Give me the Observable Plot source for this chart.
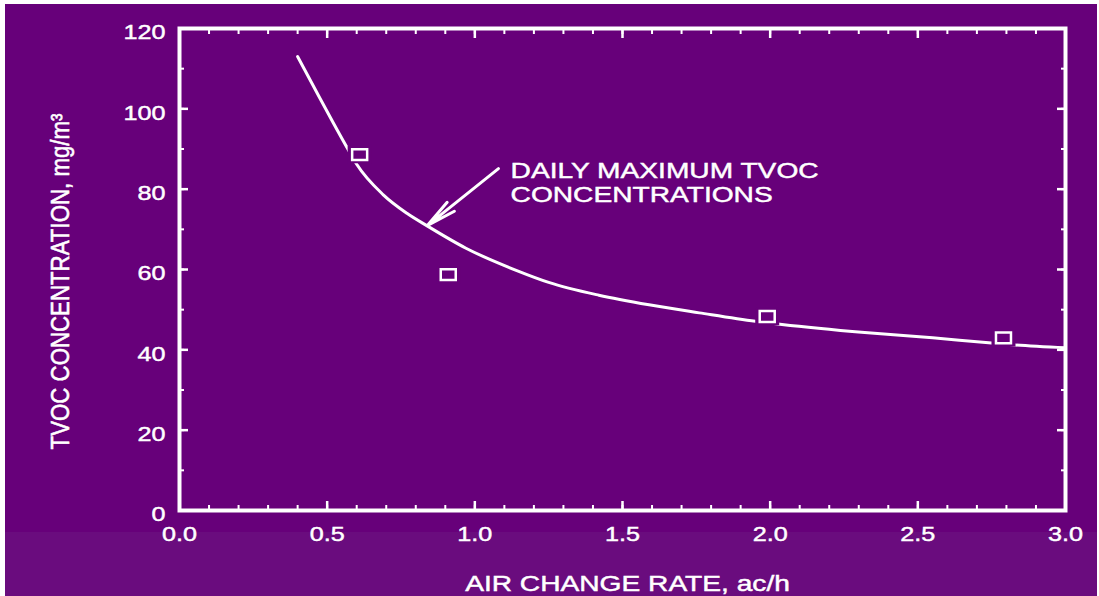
<!DOCTYPE html>
<html>
<head>
<meta charset="utf-8">
<script src="https://cdn.jsdelivr.net/npm/d3@7"></script>
<script src="https://cdn.jsdelivr.net/npm/@observablehq/plot@0.6"></script>
<style>
  html, body { margin: 0; padding: 0; background: #ffffff; }
  #chart svg { display: block; }
</style>
</head>
<body>
<div id="chart"></div>
<script>
// Measured daily maximum TVOC concentrations at four air change rates
const measuredRate = [0.61, 0.91, 1.99, 2.79];
const measuredTvoc = [88.6, 58.7, 48.3, 43.0];

// Fitted curve through the daily maxima
const curveRate = [0.40, 0.47, 0.52, 0.57, 0.60, 0.69, 0.77, 0.84, 0.97, 1.14, 1.25, 1.42, 1.59, 1.76, 1.95, 2.04, 2.32, 2.55, 2.73, 2.83, 3.00];
const curveTvoc = [113, 103.4, 96.6, 90.0, 86.2, 78.6, 74.0, 70.8, 65.3, 59.8, 56.8, 53.6, 51.2, 49.2, 47.1, 46.3, 44.3, 43.0, 41.8, 41.2, 40.5];

// Axis ticks and labels
const xMajorTicks = [0, 0.5, 1.0, 1.5, 2.0, 2.5, 3.0];
const xMinorTicks = d3.range(0, 31).map(i => i / 10);
const xTickLabels = ["0.0", "0.5", "1.0", "1.5", "2.0", "2.5", "3.0"];
const yMajorTicks = [0, 20, 40, 60, 80, 100, 120];
const yMinorTicks = d3.range(0, 13).map(i => i * 10);
const yTickLabels = ["0", "20", "40", "60", "80", "100", "120"];

// Callout
const calloutLines = ["DAILY MAXIMUM TVOC", "CONCENTRATIONS"];
const calloutText = {rate: 1.121, tvoc: 87.1};
const calloutArrow = {rate1: 1.080, tvoc1: 85.1, rate2: 0.840, tvoc2: 71.0};

const xTitle = "AIR CHANGE RATE, ac/h";
const yTitle = "TVOC CONCENTRATION, mg/m\u00B3";

const curve = curveRate.map((r, i) => ({rate: r, tvoc: curveTvoc[i]}));
const points = measuredRate.map((r, i) => ({rate: r, tvoc: measuredTvoc[i]}));

const PURPLE = "#67007a";
const PURPLE_LOW = "#6a0c7e";
const WHITE = "#ffffff";

// Open rectangle marker, slightly wider than tall
const rectSymbol = {
  draw(context, size) {
    const r = Math.sqrt(size / Math.PI);
    const hw = r, hh = r * 0.72;
    context.moveTo(-hw, -hh);
    context.lineTo(hw, -hh);
    context.lineTo(hw, hh);
    context.lineTo(-hw, hh);
    context.closePath();
  }
};

const fmtX = (d) => xTickLabels[xMajorTicks.indexOf(d)];
const fmtY = (d) => yTickLabels[yMajorTicks.indexOf(d)];

const chart = Plot.plot({
  width: 1099,
  height: 596,
  marginLeft: 179,
  marginRight: 34,
  marginTop: 28,
  marginBottom: 86,
  style: {
    fontFamily: "'Liberation Sans', Arial, Helvetica, sans-serif",
    color: WHITE,
    background: "transparent",
    overflow: "visible"
  },
  x: {domain: [0, 3]},
  y: {domain: [0, 120]},
  marks: [
    // inward tick marks on all four sides
    Plot.axisX(xMinorTicks, {anchor: "bottom", tickSize: -5, strokeWidth: 2, stroke: WHITE, text: null, label: null}),
    Plot.axisX(xMajorTicks, {anchor: "bottom", tickSize: -9, strokeWidth: 2.5, stroke: WHITE, text: null, label: null}),
    Plot.axisX(xMinorTicks, {anchor: "top", tickSize: -5, strokeWidth: 2, stroke: WHITE, text: null, label: null}),
    Plot.axisX(xMajorTicks, {anchor: "top", tickSize: -9, strokeWidth: 2.5, stroke: WHITE, text: null, label: null}),
    Plot.axisY(yMinorTicks, {anchor: "left", tickSize: -5, strokeWidth: 2, stroke: WHITE, text: null, label: null}),
    Plot.axisY(yMajorTicks, {anchor: "left", tickSize: -9, strokeWidth: 2.5, stroke: WHITE, text: null, label: null}),
    Plot.axisY(yMinorTicks, {anchor: "right", tickSize: -5, strokeWidth: 2, stroke: WHITE, text: null, label: null}),
    Plot.axisY(yMajorTicks, {anchor: "right", tickSize: -9, strokeWidth: 2.5, stroke: WHITE, text: null, label: null}),
    // tick labels
    Plot.axisX(xMajorTicks, {anchor: "bottom", tickSize: 0, tickPadding: 16, tickFormat: fmtX, fontSize: 21, fill: WHITE, label: null}),
    Plot.axisY(yMajorTicks, {anchor: "left", tickSize: 0, tickPadding: 14, tickFormat: fmtY, fontSize: 21, fill: WHITE, dy: 4, label: null}),
    // frame
    Plot.frame({stroke: WHITE, strokeWidth: 4}),
    // fitted curve
    Plot.line(curve, {x: "rate", y: "tvoc", stroke: WHITE, strokeWidth: 3, curve: "monotone-x"}),
    // gap in the curve around each marker
    Plot.dot(points, {x: "rate", y: "tvoc", symbol: rectSymbol, r: 12, fill: PURPLE, stroke: null}),
    // measured maxima
    Plot.dot(points, {x: "rate", y: "tvoc", symbol: rectSymbol, r: 7.5, fill: "none", stroke: WHITE, strokeWidth: 2.5}),
    // callout arrow and text
    Plot.arrow([calloutArrow], {x1: "rate1", y1: "tvoc1", x2: "rate2", y2: "tvoc2", stroke: WHITE, strokeWidth: 3, headLength: 18, headAngle: 22}),
    Plot.text([calloutLines.join("\n")], {x: calloutText.rate, y: calloutText.tvoc, textAnchor: "start", lineAnchor: "top", lineHeight: 1.09, fontSize: 22, fill: WHITE}),
    // axis titles
    Plot.text([xTitle], {frameAnchor: "bottom", dx: 5, dy: 73, textAnchor: "middle", lineAnchor: "middle", fontSize: 22, fill: WHITE}),
    Plot.text([yTitle], {frameAnchor: "left", dx: -119, dy: 12, rotate: -90, textAnchor: "middle", lineAnchor: "middle", fontSize: 21, fill: WHITE})
  ]
});

// Widen the lettering horizontally about each text anchor, with a slightly heavier stroke
function stretchText(t, sx, sy) {
  let tr = t.getAttribute("transform");
  if (!tr) {
    const x = +t.getAttribute("x") || 0, y = +t.getAttribute("y") || 0;
    tr = `translate(${x},${y})`;
    t.setAttribute("x", 0);
    t.setAttribute("y", 0);
  }
  t.setAttribute("transform", `${tr} scale(${sx},${sy})`);
  t.style.stroke = WHITE;
  t.style.strokeWidth = "0.45px";
}
chart.querySelectorAll('g[aria-label="x-axis tick label"] text').forEach((t) => stretchText(t, 1.2, 1));
chart.querySelectorAll('g[aria-label="y-axis tick label"] text').forEach((t) => stretchText(t, 1.2, 1));
chart.querySelectorAll("text").forEach((t) => {
  const s = t.textContent;
  if (s.startsWith(calloutLines[0])) stretchText(t, 1.28, 1);
  else if (s === xTitle) stretchText(t, 1.28, 1);
  else if (s === yTitle) stretchText(t, 1.06, 1.25);
});

chart.style.background = [
  "linear-gradient(#fff,#fff) left top / 5px 100% no-repeat",
  "linear-gradient(#fff,#fff) left top / 100% 4px no-repeat",
  "linear-gradient(#fff,#fff) right top / 2px 100% no-repeat",
  `linear-gradient(to bottom, ${PURPLE} 0px, ${PURPLE} 532px, ${PURPLE_LOW} 532px, ${PURPLE_LOW} 100%)`
].join(", ");

document.getElementById("chart").appendChild(chart);
</script>
</body>
</html>
